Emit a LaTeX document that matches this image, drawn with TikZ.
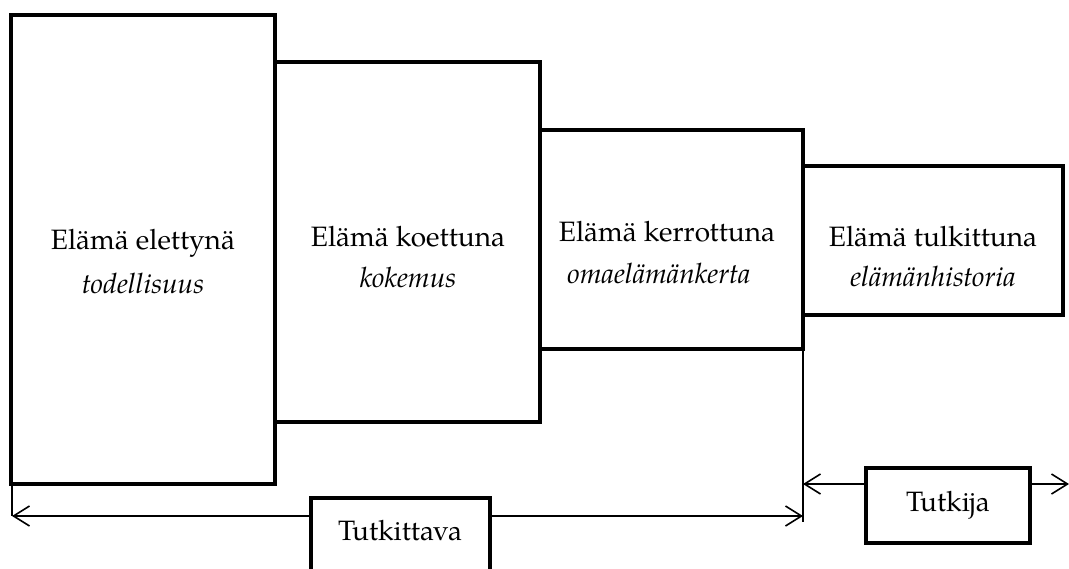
\documentclass[tikz,border=0pt]{standalone}
\usepackage{fontspec}
\setmainfont{TeX Gyre Pagella}
\usetikzlibrary{arrows.meta}
\begin{document}
\begin{tikzpicture}[x=1pt,y=-1pt,
  frame/.style={draw,line width=4.5pt,fill=white,anchor=north west,inner sep=0pt,outer sep=0pt},
  lbl/.style={font=\fontsize{28}{32}\selectfont,inner sep=0pt},
  conn/.style={line width=1.6pt},
  dbl/.style={conn,{Straight Barb[length=16pt,width=20pt]}-{Straight Barb[length=16pt,width=20pt]}}]
\useasboundingbox (0,0) rectangle (1069,568);
\clip (0,0) rectangle (1069,568);
% main boxes
\node[frame,minimum width=264pt,minimum height=469pt] (b1) at (11,15) {};
\node[frame,minimum width=265pt,minimum height=360pt] (b2) at (275,62) {};
\node[frame,minimum width=263pt,minimum height=219pt] (b3) at (540,130) {};
\node[frame,minimum width=260pt,minimum height=149pt] (b4) at (803,166) {};
% texts
\node[lbl] (t1a) at (143,243) {Elämä elettynä};
\node[lbl] (t1b) at (143,283) {\itshape todellisuus};
\node[lbl] (t2a) at (408,237) {Elämä koettuna};
\node[lbl] (t2b) at (408,277) {\itshape kokemus};
\node[lbl] (t3a) at (667,232) {Elämä kerrottuna};
\node[lbl] (t3b) at (659,273) {\itshape omaelämänkerta};
\node[lbl] (t4a) at (933,236) {Elämä tulkittuna};
\node[lbl] (t4b) at (933,276) {\itshape elämänhistoria};
% free ends of connectors
\coordinate (l0) at (12,484);
\coordinate (l1) at (12,516);
\coordinate (r0) at (803,349);
\coordinate (r1) at (803,522);
\coordinate (ra) at (803,516);
\coordinate (rb) at (803,484);
\coordinate (rc) at (1069,484);
% connectors
\draw[conn] (l0) -- (l1);
\draw[conn] (r0) -- (r1);
\draw[dbl] (l1) -- (ra);
\draw[dbl] (rb) -- (rc);
% lower boxes
\node[frame,minimum width=179pt,minimum height=92pt] (kb) at (311,498) {};
\node[lbl] (kt) at (400,530) {Tutkittava};
\node[frame,minimum width=164pt,minimum height=75pt] (jb) at (866,468) {};
\node[lbl] (jt) at (948,505) {Tutkija};
\end{tikzpicture}
\end{document}
